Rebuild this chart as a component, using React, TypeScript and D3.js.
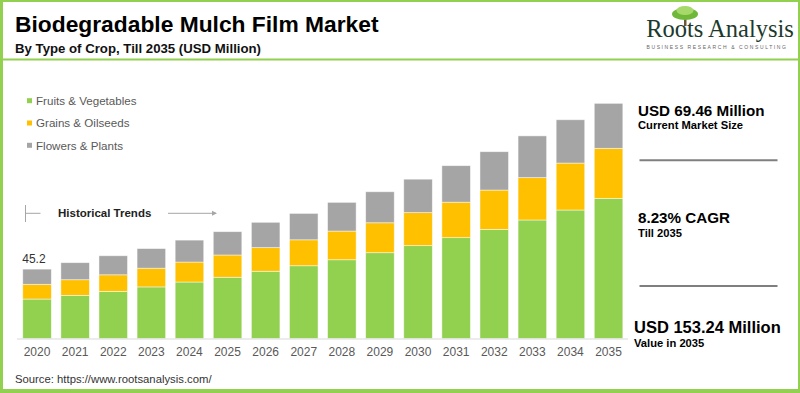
import React, { useEffect, useRef } from "react";
import * as d3 from "d3";

const years = ["2020", "2021", "2022", "2023", "2024", "2025", "2026", "2027", "2028", "2029", "2030", "2031", "2032", "2033", "2034", "2035"];
const fruitsVeg = [25.7, 28.1, 30.7, 33.6, 36.8, 39.9, 43.8, 47.4, 51.3, 55.9, 60.5, 65.7, 71.1, 77.2, 83.7, 91.3];
const grainsOil = [9.6, 10.2, 10.8, 12.2, 13.0, 14.5, 15.4, 16.9, 18.7, 19.5, 21.5, 23.1, 25.6, 27.6, 30.6, 32.6];
const flowersPlants = [9.9, 11.1, 12.4, 12.8, 14.3, 15.2, 16.5, 17.2, 18.7, 20.2, 21.8, 23.8, 25.0, 27.2, 28.2, 29.3];
const seriesNames = ["Fruits & Vegetables", "Grains & Oilseeds", "Flowers & Plants"];
const colors = ["#92D050", "#FFC000", "#A5A5A5"];
const firstLabel = "45.2";

const W = 800,
  H = 393;
const font = "'Liberation Sans', Arial, sans-serif";

export default function App() {
  const ref = useRef<SVGSVGElement>(null);

  useEffect(() => {
    const svg = d3.select(ref.current);
    svg.selectAll("*").remove();

    // frame
    svg.append("rect").attr("width", W).attr("height", H).attr("fill", "#fff");
    const frame = svg.append("g").attr("fill", "#92D050");
    frame.append("rect").attr("x", 0).attr("y", 0).attr("width", W).attr("height", 2);
    frame.append("rect").attr("x", 0).attr("y", 0).attr("width", 3).attr("height", H);
    frame.append("rect").attr("x", W - 2).attr("y", 0).attr("width", 2).attr("height", H);
    frame.append("rect").attr("x", 0).attr("y", H - 4).attr("width", W).attr("height", 4);
    frame.append("rect").attr("x", 0).attr("y", 58.5).attr("width", W).attr("height", 2);

    // titles
    svg
      .append("text")
      .attr("x", 15)
      .attr("y", 31.5)
      .attr("font-family", font)
      .attr("font-weight", "bold")
      .attr("font-size", 22.8)
      .attr("fill", "#000")
      .text("Biodegradable Mulch Film Market");
    svg
      .append("text")
      .attr("x", 15)
      .attr("y", 53)
      .attr("font-family", font)
      .attr("font-weight", "bold")
      .attr("font-size", 13)
      .attr("textLength", 246)
      .attr("lengthAdjust", "spacingAndGlyphs")
      .attr("fill", "#111")
      .text("By Type of Crop, Till 2035 (USD Million)");

    // logo
    const logo = svg.append("g");
    logo.append("rect").attr("x", 684).attr("y", 14).attr("width", 2.5).attr("height", 12).attr("fill", "#6b5a3a");
    logo.append("ellipse").attr("cx", 685).attr("cy", 14).attr("rx", 13).attr("ry", 6).attr("fill", "#6fb83a");
    logo.append("ellipse").attr("cx", 685).attr("cy", 10.5).attr("rx", 8.5).attr("ry", 4.5).attr("fill", "#a6d96a");
    logo
      .append("text")
      .attr("x", 720)
      .attr("y", 37)
      .attr("text-anchor", "middle")
      .attr("font-family", "'Liberation Serif', 'DejaVu Serif', serif")
      .attr("font-size", 24.5)
      .attr("fill", "#1c3a2c")
      .text("Roots Analysis");
    logo
      .append("text")
      .attr("x", 717)
      .attr("y", 49)
      .attr("text-anchor", "middle")
      .attr("font-family", font)
      .attr("font-size", 5)
      .attr("letter-spacing", 1.6)
      .attr("fill", "#666")
      .text("BUSINESS RESEARCH & CONSULTING");

    // scales
    const x = d3.scaleBand().domain(years).range([18, 627.6]).paddingInner(0.25).paddingOuter(0.125);
    const y = d3.scaleLinear().domain([0, 155]).range([338.5, 338.5 - 155 * 1.535]);

    const table = years.map((yr, i) => ({
      year: yr,
      s0: fruitsVeg[i],
      s1: grainsOil[i],
      s2: flowersPlants[i],
    }));
    const stack = d3.stack<any>().keys(["s0", "s1", "s2"]);
    const layers = stack(table);

    svg
      .append("g")
      .selectAll("g")
      .data(layers)
      .join("g")
      .attr("fill", (_d, i) => colors[i])
      .selectAll("rect")
      .data((d) => d)
      .join("rect")
      .attr("x", (d) => x(d.data.year)!)
      .attr("width", x.bandwidth())
      .attr("y", (d) => y(d[1]))
      .attr("height", (d) => y(d[0]) - y(d[1]))
      .attr("stroke", "#fff")
      .attr("stroke-opacity", 0.6)
      .attr("stroke-width", 0.8);

    // x axis
    svg
      .append("line")
      .attr("x1", 17)
      .attr("x2", 628)
      .attr("y1", 339)
      .attr("y2", 339)
      .attr("stroke", "#d9d9d9")
      .attr("stroke-width", 1);
    svg
      .append("g")
      .selectAll("text")
      .data(years)
      .join("text")
      .attr("x", (d) => x(d)! + x.bandwidth() / 2)
      .attr("y", 356)
      .attr("text-anchor", "middle")
      .attr("font-family", font)
      .attr("font-size", 12)
      .attr("fill", "#595959")
      .text((d) => d);

    // first bar label
    const firstTotal = fruitsVeg[0] + grainsOil[0] + flowersPlants[0];
    svg
      .append("text")
      .attr("x", x(years[0])! - 0.5)
      .attr("y", y(firstTotal) - 6)
      .attr("font-family", font)
      .attr("font-size", 12)
      .attr("fill", "#333")
      .text(firstLabel);

    // legend
    const legend = svg
      .append("g")
      .selectAll("g")
      .data(seriesNames)
      .join("g")
      .attr("transform", (_d, i) => `translate(27,${100.7 + i * 22.3})`);
    legend
      .append("rect")
      .attr("x", 0)
      .attr("y", -2.5)
      .attr("width", 5)
      .attr("height", 5)
      .attr("fill", (_d, i) => colors[i]);
    legend
      .append("text")
      .attr("x", 9)
      .attr("y", 4.2)
      .attr("font-family", font)
      .attr("font-size", 11.6)
      .attr("fill", "#595959")
      .text((d) => d);

    // historical trends marker
    const ht = svg.append("g").attr("stroke", "#a6a6a6").attr("stroke-width", 1);
    ht.append("line").attr("x1", 25.5).attr("x2", 25.5).attr("y1", 205).attr("y2", 222);
    ht.append("line").attr("x1", 25.5).attr("x2", 40.5).attr("y1", 213.3).attr("y2", 213.3);
    ht.append("line").attr("x1", 168).attr("x2", 216).attr("y1", 213.3).attr("y2", 213.3);
    svg
      .append("path")
      .attr("d", "M217,213.3 L212,210.8 L212,215.8 Z")
      .attr("fill", "#a6a6a6");
    svg
      .append("text")
      .attr("x", 58)
      .attr("y", 217)
      .attr("font-family", font)
      .attr("font-weight", "bold")
      .attr("font-size", 11.5)
      .attr("fill", "#222")
      .text("Historical Trends");

    // right panel
    const panel = svg.append("g").attr("font-family", font).attr("font-weight", "bold").attr("fill", "#000");
    const bigText = (xx: number, yy: number, size: number, t: string) =>
      panel.append("text").attr("x", xx).attr("y", yy).attr("font-size", size).text(t);
    bigText(638, 115.7, 15.2, "USD 69.46 Million");
    bigText(638, 129, 11.2, "Current Market Size");
    bigText(638, 223.3, 15.2, "8.23% CAGR");
    bigText(638, 237, 11.2, "Till 2035");
    bigText(634, 332.7, 16.5, "USD 153.24 Million");
    bigText(634, 347.3, 11.2, "Value in 2035");
    [160.3, 286].forEach((ly) =>
      svg
        .append("line")
        .attr("x1", 639.5)
        .attr("x2", 777.5)
        .attr("y1", ly)
        .attr("y2", ly)
        .attr("stroke", "#7f7f7f")
        .attr("stroke-width", 2)
    );

    // source
    svg
      .append("text")
      .attr("x", 15)
      .attr("y", 382.5)
      .attr("font-family", font)
      .attr("font-size", 11.3)
      .attr("fill", "#333")
      .text("Source: https://www.rootsanalysis.com/");
  }, []);

  return <svg ref={ref} width={W} height={H} style={{ position: "absolute", left: 0, top: 0 }} />;
}
